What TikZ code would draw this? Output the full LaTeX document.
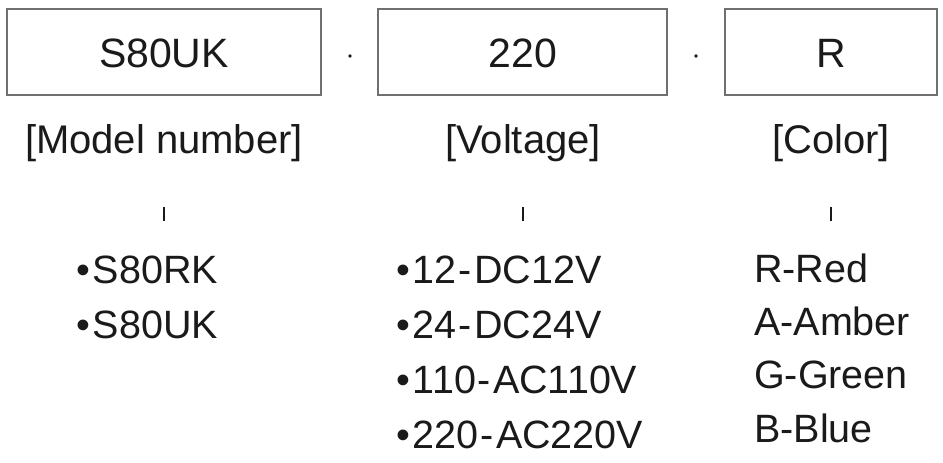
\documentclass[tikz,border=0pt]{standalone}
\usepackage{fontspec}
\setmainfont{Liberation Sans}
\definecolor{bx}{HTML}{707070}
\definecolor{tx}{HTML}{1A1A1A}
\newcommand{\dsh}{\kern2pt-\kern2pt}
\begin{document}
\begin{tikzpicture}[x=1pt,y=-1pt,
  box/.style={draw=bx,line width=2pt},
  big/.style={font=\fontsize{41}{46}\selectfont,text=tx,inner sep=0pt},
  lab/.style={font=\fontsize{40}{46}\selectfont,text=tx,inner sep=0pt},
  lst/.style={font=\fontsize{39.5}{44}\selectfont,text=tx,inner sep=0pt,anchor=west},
  tick/.style={draw=tx,line width=2.2pt}]
\useasboundingbox (0,0) rectangle (943,463);
\draw[box] (7,9) rectangle (321,95);
\draw[box] (378,9) rectangle (667,95);
\draw[box] (725,9) rectangle (937,95);
\node[big] (b1) at (164,53) {S80UK};
\node[big] (b2) at (523,53) {220};
\node[big] (b3) at (831,53) {R};
\fill[tx] (350,56) circle (1.8);
\fill[tx] (696,56) circle (1.8);
\node[lab] (l1) at (164,143) {[Model number]};
\node[lab] (l2) at (523,143) {[Voltage]};
\node[lab] (l3) at (831,143) {[Color]};
\foreach \x in {164,523,831} \draw[tick] (\x,207) -- (\x,221);
\node[lst] (m1) at (76,270) {•\kern3pt S80RK};
\node[lst] (m2) at (76,325) {•\kern3pt S80UK};
\node[lst] (v1) at (396,270) {•\kern3pt 12\dsh DC12V};
\node[lst] (v2) at (396,325) {•\kern3pt 24\dsh DC24V};
\node[lst] (v3) at (396,380) {•\kern3pt 110\dsh AC110V};
\node[lst] (v4) at (396,435) {•\kern3pt 220\dsh AC220V};
\node[lst] (c1) at (754,268) {R-Red};
\node[lst] (c2) at (754,321) {A-Amber};
\node[lst] (c3) at (754,375) {G-Green};
\node[lst] (c4) at (754,428) {B-Blue};
\end{tikzpicture}
\end{document}
